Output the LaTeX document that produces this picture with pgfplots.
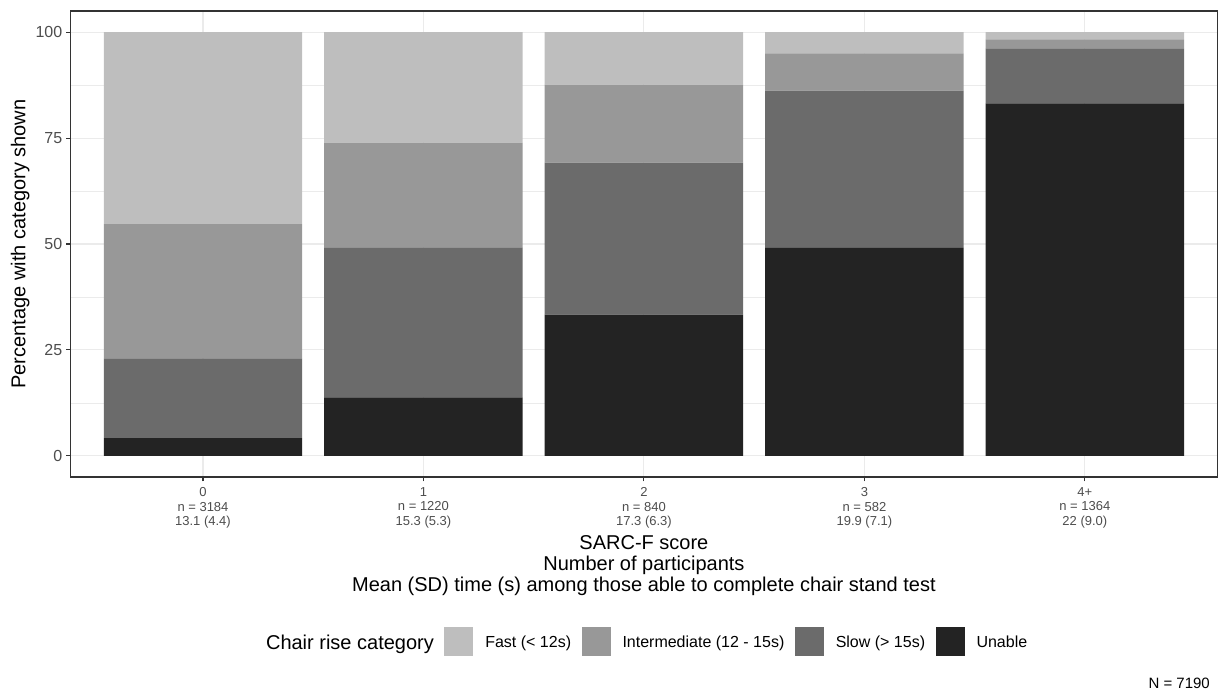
\documentclass[border=0pt]{standalone}
\usepackage{fontspec}
\setmainfont{Liberation Sans}
\usepackage{pgfplots}
\usepackage{pgfplotstable}
\pgfplotsset{compat=1.18}

\definecolor{cFast}{HTML}{BEBEBE}
\definecolor{cInter}{HTML}{989898}
\definecolor{cSlow}{HTML}{6B6B6B}
\definecolor{cUnable}{HTML}{232323}
\definecolor{gridgrey}{HTML}{EBEBEB}
\definecolor{grey20}{HTML}{333333}
\definecolor{grey30}{HTML}{4D4D4D}

% percentages per SARC-F score, stacked bottom to top
\pgfplotstableread{
x unable slow inter fast
0 4.2  18.8 31.7 45.3
1 13.8 35.4 24.7 26.1
2 33.3 35.9 18.4 12.4
3 49.1 37.1 8.8  5.0
4 83.2 13.0 2.1  1.7
}\chairdata

\begin{document}
\begin{tikzpicture}
\useasboundingbox (-70.7bp,-215bp) rectangle (1147.3bp,477bp);
\begin{axis}[
  at={(0,0)}, anchor=south west,
  scale only axis, width=1146.5bp, height=466bp,
  xmin=-0.6, xmax=4.6, ymin=-5, ymax=105,
  ybar stacked, bar width=0.9,
  xtick={0,1,2,3,4},
  xticklabels={{0\\n = 3184\\13.1 (4.4)},{1\\n = 1220\\15.3 (5.3)},{2\\n = 840\\17.3 (6.3)},{3\\n = 582\\19.9 (7.1)},{4+\\n = 1364\\22 (9.0)}},
  ytick={0,25,50,75,100},
  minor ytick={12.5,37.5,62.5,87.5},
  xmajorgrids, ymajorgrids, yminorgrids,
  major grid style={gridgrey, line width=1.1bp},
  minor grid style={gridgrey, line width=0.55bp},
  axis line style={grey20, line width=1.1bp},
  tick style={grey20, line width=1.1bp},
  tick align=outside, major tick length=4.3bp, minor tick length=0pt,
  xtick pos=bottom, ytick pos=left,
  /pgf/number format/assume math mode=true,
  xticklabel style={font=\fontsize{13bp}{14.5bp}\selectfont, text=grey30, align=center, inner sep=0pt, yshift=-6bp},
  yticklabel style={font=\fontsize{16bp}{18bp}\selectfont, text=grey30, inner sep=0pt, xshift=-4bp},
  xlabel={SARC-F score\\Number of participants\\Mean (SD) time (s) among those able to complete chair stand test},
  xlabel style={font=\fontsize{20bp}{21bp}\selectfont, align=center, inner sep=0pt,
    at={(axis description cs:0.5,-0.1245)}, anchor=north},
  ylabel={Percentage with category shown},
  ylabel style={font=\fontsize{20bp}{22bp}\selectfont, inner sep=0pt,
    at={(axis description cs:-0.044,0.5)}, anchor=center},
  legend columns=5,
  legend cell align=left,
  legend style={draw=none, fill=none, inner sep=0pt, outer sep=0pt,
    font=\fontsize{16bp}{18bp}\selectfont,
    nodes={inner sep=0pt},
    at={(axis description cs:0.1595,-0.3519)}, anchor=west,
    /tikz/every odd column/.append style={column sep=12.5bp},
    /tikz/every even column/.append style={column sep=10.5bp}},
]
\addlegendimage{empty legend}
\addlegendentry{\fontsize{20bp}{22bp}\selectfont Chair rise category}
\addlegendimage{legend image code/.code={\fill[cFast] (0bp,-12.3bp) rectangle (28bp,15.7bp);}}
\addlegendentry{Fast (< 12s)}
\addlegendimage{legend image code/.code={\fill[cInter] (0bp,-12.3bp) rectangle (28bp,15.7bp);}}
\addlegendentry{Intermediate (12 - 15s)}
\addlegendimage{legend image code/.code={\fill[cSlow] (0bp,-12.3bp) rectangle (28bp,15.7bp);}}
\addlegendentry{Slow (> 15s)}
\addlegendimage{legend image code/.code={\fill[cUnable] (0bp,-12.3bp) rectangle (28bp,15.7bp);}}
\addlegendentry{Unable}

\addplot[fill=cUnable, draw=none, forget plot] table[x=x, y=unable] {\chairdata};
\addplot[fill=cSlow, draw=none, forget plot] table[x=x, y=slow] {\chairdata};
\addplot[fill=cInter, draw=none, forget plot] table[x=x, y=inter] {\chairdata};
\addplot[fill=cFast, draw=none, forget plot] table[x=x, y=fast] {\chairdata};
\end{axis}
\node[anchor=east, inner sep=0pt, font=\fontsize{15bp}{17bp}\selectfont] at (1139.3bp,-206bp) {N = 7190};
\end{tikzpicture}
\end{document}
